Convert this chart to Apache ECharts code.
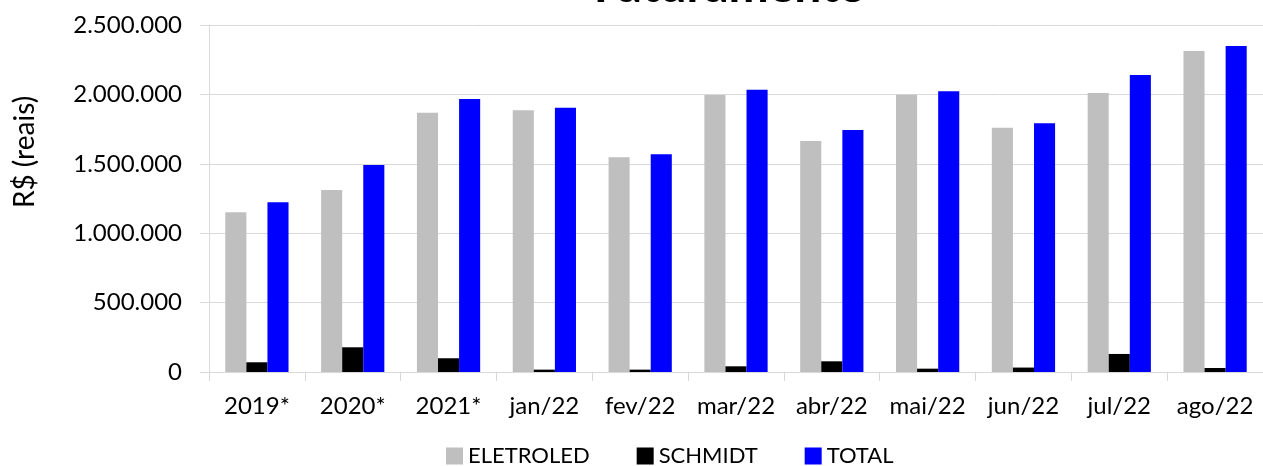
<!DOCTYPE html>
<html>
<head>
<meta charset="utf-8">
<script src="https://cdn.jsdelivr.net/npm/echarts@6/dist/echarts.min.js"></script>
<style>
html,body{margin:0;padding:0;background:#fff;}
#chart{width:1263px;height:466px;}
</style>
</head>
<body>
<div id="chart"></div>
<script>
const categories = ['2019*','2020*','2021*','jan/22','fev/22','mar/22','abr/22','mai/22','jun/22','jul/22','ago/22'];
const eletroled = [1151000,1311000,1868000,1885000,1547000,1996000,1664000,1998000,1760000,2010000,2313000];
const schmidt = [70000,178000,99000,17000,17000,41000,77000,24000,32000,130000,29000];
const total = [1223000,1491000,1967000,1904000,1568000,2034000,1744000,2022000,1792000,2140000,2349000];
const yTicks = {min:0, max:2500000, interval:500000};

const FONT = 'Lato';
const chart = echarts.init(document.getElementById('chart'));
function fmt(v){ return String(v).replace(/\B(?=(\d{3})+(?!\d))/g,'.'); }
chart.setOption({
  animation:false,
  textStyle:{fontFamily:FONT},
  title:{text:'Faturamento', left:730, textAlign:'center', top:-37, padding:0,
    textStyle:{fontFamily:FONT, fontSize:48, fontWeight:'bold', color:'#000'}},
  legend:{left:441, top:440, itemWidth:17, itemHeight:17, itemGap:47,
    icon:'rect', textStyle:{fontFamily:FONT, fontSize:22, color:'#000'},
    data:['ELETROLED','SCHMIDT','TOTAL']},
  grid:{left:209, right:0, top:25, bottom:94, containLabel:false},
  xAxis:{type:'category', data:categories, boundaryGap:true,
    axisLine:{show:true, lineStyle:{color:'#d9d9d9', width:1}},
    axisTick:{show:true, length:9, alignWithLabel:false, lineStyle:{color:'#d9d9d9'}},
    axisLabel:{fontFamily:FONT, fontSize:24, color:'#000', margin:22, interval:0}},
  yAxis:{type:'value', min:yTicks.min, max:yTicks.max, interval:yTicks.interval,
    axisLine:{show:true, lineStyle:{color:'#d9d9d9'}},
    axisTick:{show:true, length:9, lineStyle:{color:'#d9d9d9'}},
    splitLine:{show:true, lineStyle:{color:'#d9d9d9', width:1}},
    axisLabel:{fontFamily:FONT, fontSize:24, color:'#000', margin:27, formatter:fmt}},
  graphic:[{type:'text', x:25, y:152, rotation:Math.PI/2,
    style:{text:'R$ (reais)', font:'28px Lato', fill:'#000', textAlign:'center', textVerticalAlign:'middle'}}],
  series:[
    {name:'ELETROLED', type:'bar', data:eletroled, barGap:'0%', barCategoryGap:'34%', itemStyle:{color:'#BFBFBF'}},
    {name:'SCHMIDT', type:'bar', data:schmidt, barGap:'0%', barCategoryGap:'34%', itemStyle:{color:'#000000'}},
    {name:'TOTAL', type:'bar', data:total, barGap:'0%', barCategoryGap:'34%', itemStyle:{color:'#0000FF'}}
  ]
});
</script>
</body>
</html>
